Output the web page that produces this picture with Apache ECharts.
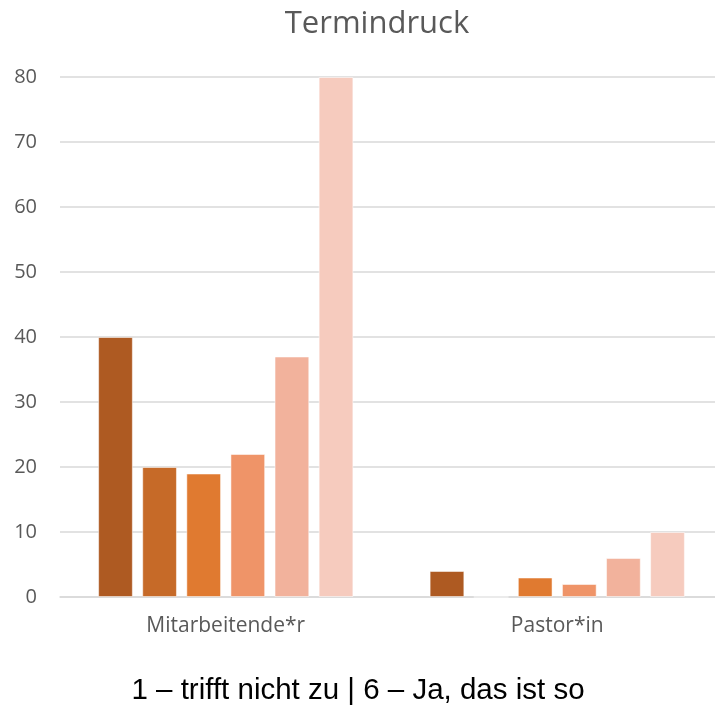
<!DOCTYPE html>
<html>
<head>
<meta charset="utf-8">
<script src="https://cdn.jsdelivr.net/npm/echarts@6/dist/echarts.min.js"></script>
<style>
  html, body { margin: 0; padding: 0; background: #fff; overflow: hidden; }
  #main { width: 723px; height: 709px; }
</style>
</head>
<body>
<div id="main"></div>
<script>
// Daten
var categories = ['Mitarbeitende*r', 'Pastor*in'];
var seriesNames = ['1', '2', '3', '4', '5', '6'];
var s1 = [40, 4];
var s2 = [20, 0];
var s3 = [19, 3];
var s4 = [22, 2];
var s5 = [37, 6];
var s6 = [80, 10];
var yTicks = [0, 10, 20, 30, 40, 50, 60, 70, 80];

var colors = ['#AE5A22', '#C66A28', '#E07A30', '#EF9468', '#F2B29C', '#F6CBBE'];
var allValues = [s1, s2, s3, s4, s5, s6];

var chart = echarts.init(document.getElementById('main'));

var series = allValues.map(function (vals, i) {
  return {
    name: seriesNames[i],
    type: 'bar',
    data: vals,
    barGap: '27%',
    barCategoryGap: '23%',
    itemStyle: {
      color: colors[i],
      borderColor: 'rgba(255,255,255,0.5)',
      borderWidth: 1
    }
  };
});

chart.setOption({
  animation: false,
  graphic: [{
    type: 'text',
    x: 377,
    y: 24,
    style: {
      text: 'Termindruck',
      fontFamily: 'Open Sans',
      fontSize: 31,
      fill: '#595959',
      textAlign: 'center',
      textVerticalAlign: 'middle'
    }
  }, {
    type: 'text',
    x: 358,
    y: 691,
    style: {
      text: '1 – trifft nicht zu | 6 – Ja, das ist so',
      fontFamily: 'Liberation Sans',
      fontSize: 29.5,
      fill: '#000',
      textAlign: 'center',
      textVerticalAlign: 'middle'
    }
  }],
  grid: {
    left: 60,
    right: 0,
    top: 77,
    bottom: 112,
    containLabel: false
  },
  xAxis: {
    type: 'category',
    data: categories,
    axisLine: { lineStyle: { color: '#d9d9d9', width: 1.5 } },
    axisTick: { show: false },
    axisLabel: {
      fontFamily: 'Open Sans',
      fontSize: 21,
      color: '#595959',
      margin: 19
    }
  },
  yAxis: {
    type: 'value',
    min: 0,
    max: 80,
    interval: 10,
    axisLine: { show: false },
    axisTick: { show: false },
    splitLine: { lineStyle: { color: '#d9d9d9', width: 1.5 } },
    axisLabel: {
      fontFamily: 'Open Sans',
      fontSize: 20,
      color: '#595959',
      margin: 23,
      formatter: function (v) { return yTicks.indexOf(v) >= 0 ? String(v) : ''; }
    }
  },
  series: series
});
</script>
</body>
</html>
